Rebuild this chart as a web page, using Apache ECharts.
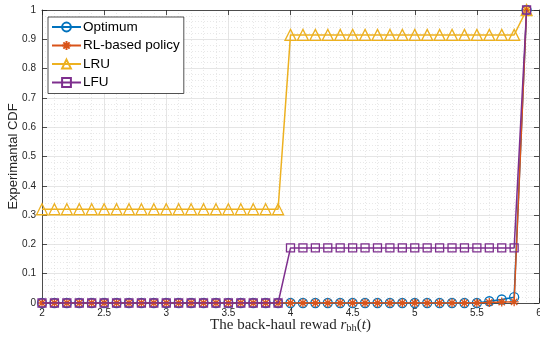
<!DOCTYPE html>
<html><head><meta charset="utf-8">
<script src="https://cdn.jsdelivr.net/npm/echarts@6/dist/echarts.min.js"></script>
<style>html,body{margin:0;padding:0;background:#fff}#c{width:540px;height:337px}</style>
</head><body><div id="c"></div>
<script>
// ---- data ----
const xValues = [2.0,2.1,2.2,2.3,2.4,2.5,2.6,2.7,2.8,2.9,3.0,3.1,3.2,3.3,3.4,3.5,3.6,3.7,3.8,3.9,
                 4.0,4.1,4.2,4.3,4.4,4.5,4.6,4.7,4.8,4.9,5.0,5.1,5.2,5.3,5.4,5.5,5.6,5.7,5.8,5.9];
const optimum = [0,0,0,0,0,0,0,0,0,0,0,0,0,0,0,0,0,0,0,0,
                 0,0,0,0,0,0,0,0,0,0,0,0,0,0,0,0,0.006,0.012,0.02,1];
const rlPolicy = [0,0,0,0,0,0,0,0,0,0,0,0,0,0,0,0,0,0,0,0,
                  0,0,0,0,0,0,0,0,0,0,0,0,0,0,0,0,0.002,0.003,0.004,1];
const lru = [0.32,0.32,0.32,0.32,0.32,0.32,0.32,0.32,0.32,0.32,0.32,0.32,0.32,0.32,0.32,0.32,0.32,0.32,0.32,0.32,
             0.915,0.915,0.915,0.915,0.915,0.915,0.915,0.915,0.915,0.915,0.915,0.915,0.915,0.915,0.915,0.915,0.915,0.915,0.915,1];
const lfu = [0,0,0,0,0,0,0,0,0,0,0,0,0,0,0,0,0,0,0,0,
             0.188,0.188,0.188,0.188,0.188,0.188,0.188,0.188,0.188,0.188,0.188,0.188,0.188,0.188,0.188,0.188,0.188,0.188,0.188,1];
const seriesNames = ['Optimum','RL-based policy','LRU','LFU'];
const xTickLabels = ['2','2.5','3','3.5','4','4.5','5','5.5','6'];
const yTickLabels = ['0','0.1','0.2','0.3','0.4','0.5','0.6','0.7','0.8','0.9','1'];

// ---- chart ----
const colors = ['#0072BD','#D95319','#EDB120','#7E2F8E'];
const symbols = ['circle',
  'path://M0,-10L0,10M-10,0L10,0M-7.07,-7.07L7.07,7.07M-7.07,7.07L7.07,-7.07',
  'triangle','rect'];
const sizes = [9, 9, 11, 8];
const dataSets = [optimum, rlPolicy, lru, lfu];
const AX = '#262626';

const fmtX = v => { const s = String(Math.round(v*10)/10); return xTickLabels.includes(s) ? s : ''; };
const fmtY = v => { const s = String(Math.round(v*10)/10); return yTickLabels.includes(s) ? s : ''; };

const chart = echarts.init(document.getElementById('c'), null, {renderer:'canvas'});
const series = seriesNames.map((name, i) => ({
  name, type:'line', xAxisIndex:0, yAxisIndex:0,
  data: xValues.map((x, k) => [x, dataSets[i][k]]),
  symbol: symbols[i], symbolSize: sizes[i], showAllSymbol:true,
  lineStyle:{color:colors[i], width:1.5},
  itemStyle:{color:'rgba(0,0,0,0)', borderColor:colors[i], borderWidth:1.3},
  emphasis:{disabled:true}, animation:false, z: 2+i
}));

const baseAxis = {
  axisLine:{show:true, onZero:false, lineStyle:{color:AX, width:0.8}},
  axisTick:{show:true, inside:true, length:5, lineStyle:{color:AX, width:0.8}},
};

chart.setOption({
  backgroundColor:'#fff',
  animation:false,
  grid:{left:42, right:1, top:10, bottom:34, containLabel:false, outerBoundsMode:'none'},
  legend:{
    orient:'vertical', left:48, top:17,
    data: seriesNames,
    backgroundColor:'#fff', borderColor:AX, borderWidth:0.8,
    padding:[3,4,4,3], itemGap:4.5, itemWidth:29, itemHeight:11,
    textStyle:{fontFamily:'Liberation Sans, Arial, sans-serif', fontSize:13.5, color:'#000', lineHeight:14, padding:[0,0,0,-3]}
  },
  xAxis:[
    Object.assign({}, baseAxis, {
      type:'value', min:2, max:6, interval:0.5, position:'bottom',
      axisLabel:{formatter:fmtX, color:AX, fontSize:10, margin:5, fontFamily:'Liberation Sans, Arial, sans-serif', showMaxLabel:true},
      splitLine:{show:true, lineStyle:{color:'#dedede', width:0.8}},
      minorTick:{show:false, splitNumber:5},
      minorSplitLine:{show:true, lineStyle:{color:'#d8d8d8', width:0.6, type:[1,2]}},
      name:'The back-haul rewad {i|r}{s|bh}({i|t})', nameLocation:'middle', nameGap:14, nameMoveOverlap:false,
      nameTextStyle:{fontFamily:'Liberation Serif, DejaVu Serif, serif', fontSize:15, color:AX,
        rich:{i:{fontFamily:'Liberation Serif, serif', fontStyle:'italic', fontSize:15, color:AX},
              s:{fontFamily:'Liberation Serif, serif', fontSize:10.5, color:AX, padding:[6,0,0,0]}}}
    }),
    Object.assign({}, baseAxis, {
      type:'value', min:2, max:6, interval:0.5, position:'top',
      axisLabel:{show:false}, splitLine:{show:false}
    })
  ],
  yAxis:[
    Object.assign({}, baseAxis, {
      type:'value', min:0, max:1, interval:0.1, position:'left',
      axisLabel:{formatter:fmtY, color:AX, fontSize:10, margin:6, fontFamily:'Liberation Sans, Arial, sans-serif'},
      splitLine:{show:true, lineStyle:{color:'#dedede', width:0.8}},
      minorTick:{show:false, splitNumber:5},
      minorSplitLine:{show:true, lineStyle:{color:'#d8d8d8', width:0.6, type:[1,2]}},
      name:'Experimantal CDF', nameLocation:'middle', nameGap:22, nameMoveOverlap:false,
      nameTextStyle:{fontFamily:'Liberation Sans, Arial, sans-serif', fontSize:13, color:AX}
    }),
    Object.assign({}, baseAxis, {
      type:'value', min:0, max:1, interval:0.1, position:'right',
      axisLabel:{show:false}, splitLine:{show:false}
    })
  ],
  series
});
</script></body></html>
